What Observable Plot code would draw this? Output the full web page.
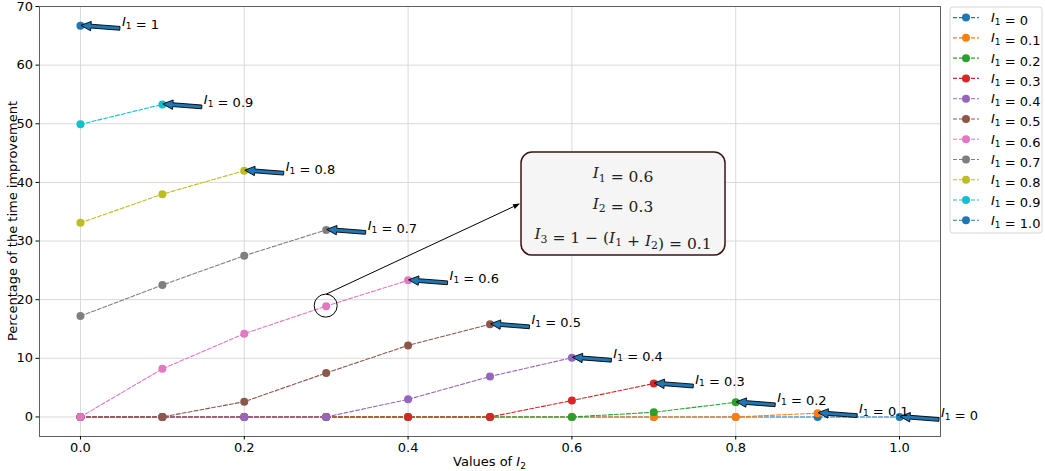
<!DOCTYPE html>
<html><head><meta charset="utf-8">
<script src="https://cdn.jsdelivr.net/npm/d3@7"></script>
<script src="https://cdn.jsdelivr.net/npm/@observablehq/plot@0.6"></script>
<style>
  html,body{margin:0;padding:0;background:#fff}
  #chart{width:1045px;height:471px}
</style>
</head><body><div id="chart"></div>
<script>
// ---------- data ----------
const i2Values = [0, 0.1, 0.2, 0.3, 0.4, 0.5, 0.6, 0.7, 0.8, 0.9, 1.0];
const i1Values = [0, 0.1, 0.2, 0.3, 0.4, 0.5, 0.6, 0.7, 0.8, 0.9, 1.0];
// improvement[k] = values for I1 = i1Values[k], at I2 = 0, 0.1, ... , 1 - I1
const improvement = [
  [0, 0, 0, 0, 0, 0, 0, 0, 0, 0, 0],
  [0, 0, 0, 0, 0, 0, 0, 0, 0, 0.65],
  [0, 0, 0, 0, 0, 0, 0, 0.8, 2.5],
  [0, 0, 0, 0, 0, 0, 2.8, 5.7],
  [0, 0, 0, 0, 3.0, 6.9, 10.1],
  [0, 0, 2.6, 7.5, 12.2, 15.8],
  [0, 8.2, 14.2, 18.9, 23.3],
  [17.2, 22.5, 27.5, 31.9],
  [33.1, 38.0, 42.0],
  [49.9, 53.3],
  [66.7]
];
const legendLabels = ["0", "0.1", "0.2", "0.3", "0.4", "0.5", "0.6", "0.7", "0.8", "0.9", "1.0"];
const annotationLabels = ["0", "0.1", "0.2", "0.3", "0.4", "0.5", "0.6", "0.7", "0.8", "0.9", "1"];
const seriesColors = ["#1f77b4", "#ff7f0e", "#2ca02c", "#d62728", "#9467bd", "#8c564b",
                      "#e377c2", "#7f7f7f", "#bcbd22", "#17becf", "#1f77b4"];
const xTicks = [0, 0.2, 0.4, 0.6, 0.8, 1.0];
const yTicks = [0, 10, 20, 30, 40, 50, 60, 70];
const xLabelText = "Values of ";
const yLabelText = "Percentage of the time improvement";
const highlight = {series: 6, index: 3};          // I1 = 0.6, I2 = 0.3
const boxCenter = {x: 0.663, y: 36.3};             // where the info box sits (data units)
const boxLines = [
  [["I", "1"], " = 0.6"],
  [["I", "2"], " = 0.3"],
  [["I", "3"], " = 1 \u2212 (", ["I", "1"], " + ", ["I", "2"], ") = 0.1"]
];

// ---------- rows ----------
const rows = [];
improvement.forEach((vals, s) => vals.forEach((v, j) => rows.push({series: s, i1: i1Values[s], i2: i2Values[j], value: v})));

const FONT = "DejaVu Sans, Noto Sans, sans-serif";
const DASH = "4,2";

function mathText(sel, parts, fs, family) {
  // parts: strings or [italicLetter, subscript]
  parts.forEach(p => {
    if (Array.isArray(p)) {
      sel.append("tspan").attr("font-style", "italic").attr("font-family", family).text(p[0]);
      sel.append("tspan").attr("font-size", fs * 0.7).attr("dy", fs * 0.22).attr("font-family", family).text(p[1]);
      sel.append("tspan").attr("dy", -fs * 0.22).text("");
    } else {
      sel.append("tspan").attr("font-family", family).text(p);
    }
  });
}

function arrowPath(x0, y0, x1, y1, sw, hw, hl) {
  const dx = x1 - x0, dy = y1 - y0, L = Math.hypot(dx, dy);
  const ux = dx / L, uy = dy / L, nx = -uy, ny = ux;
  const bx = x1 - ux * hl, by = y1 - uy * hl;
  const p = [
    [x0 + nx * sw, y0 + ny * sw], [bx + nx * sw, by + ny * sw], [bx + nx * hw, by + ny * hw],
    [x1, y1],
    [bx - nx * hw, by - ny * hw], [bx - nx * sw, by - ny * sw], [x0 - nx * sw, y0 - ny * sw]
  ];
  return "M" + p.map(q => q.join(",")).join("L") + "Z";
}

function overlay(...args) {
  const scales = args.find(a => a && typeof a.x === "function" && typeof a.y === "function");
  const dims = args.find(a => a && typeof a === "object" && "marginLeft" in a && "width" in a);
  const sx = scales.x, sy = scales.y;
  const g = d3.create("svg:g").attr("text-anchor", "start");
  const left = dims.marginLeft, right = dims.width - dims.marginRight;
  const top = dims.marginTop, bottom = dims.height - dims.marginBottom;

  // fancy arrows + labels at the last point of each series
  improvement.forEach((vals, s) => {
    const j = vals.length - 1;
    const px = sx(i2Values[j]), py = sy(vals[j]);
    const tx = sx(i2Values[j] + 0.05);
    g.append("path").attr("d", arrowPath(tx - 1, py + 3, px + 1, py, 1.9, 4.7, 10))
      .attr("fill", "#1f77b4").attr("stroke", "#000").attr("stroke-width", 0.9).attr("stroke-linejoin", "miter");
    const t = g.append("text").attr("x", tx + 1).attr("y", py + 0.5).attr("font-size", 13)
      .attr("text-anchor", "start").attr("font-family", FONT).attr("fill", "#000");
    mathText(t, [["I", "1"], " = " + annotationLabels[s]], 13, FONT);
  });

  // highlight circle + arrow to info box
  const hv = improvement[highlight.series][highlight.index];
  const cx = sx(i2Values[highlight.index]), cy = sy(hv);
  g.append("circle").attr("cx", cx).attr("cy", cy).attr("r", 11.5)
    .attr("fill", "none").attr("stroke", "#000").attr("stroke-width", 1);
  const bw = 204, bh = 103;
  const bcx = sx(boxCenter.x), bcy = sy(boxCenter.y);
  const ax0 = cx + 0.5, ay0 = cy - 11.5, ax1 = bcx - bw / 2 - 1, ay1 = bcy;
  const dx = ax1 - ax0, dy = ay1 - ay0, L = Math.hypot(dx, dy), ux = dx / L, uy = dy / L;
  const hl = 7, hw = 2.6;
  g.append("line").attr("x1", ax0).attr("y1", ay0).attr("x2", ax1 - ux * hl).attr("y2", ay1 - uy * hl)
    .attr("stroke", "#000").attr("stroke-width", 1);
  g.append("path").attr("d", `M${ax1},${ay1}L${ax1 - ux * hl - uy * hw},${ay1 - uy * hl + ux * hw}L${ax1 - ux * hl + uy * hw},${ay1 - uy * hl - ux * hw}Z`)
    .attr("fill", "#000");
  g.append("rect").attr("x", bcx - bw / 2).attr("y", bcy - bh / 2).attr("width", bw).attr("height", bh)
    .attr("rx", 11).attr("fill", "#f5f5f5").attr("stroke", "#3a1416").attr("stroke-width", 1.5);
  const SERIF = "DejaVu Serif, Liberation Serif, serif";
  boxLines.forEach((parts, i) => {
    const t = g.append("text").attr("x", bcx).attr("y", bcy + (i - 1) * 30.5 + 5)
      .attr("text-anchor", "middle").attr("font-size", 15.5).attr("font-family", SERIF).attr("fill", "#222");
    mathText(t, parts, 15.5, SERIF);
  });

  // axis labels
  g.append("text").attr("transform", `translate(12,${(top + bottom) / 2}) rotate(-90)`)
    .attr("text-anchor", "middle").attr("dy", "0.35em").attr("font-size", 13).attr("font-family", FONT).attr("fill", "#000")
    .text(yLabelText);
  const xl = g.append("text").attr("x", (left + right) / 2).attr("y", dims.height - 5)
    .attr("text-anchor", "middle").attr("font-size", 13).attr("font-family", FONT).attr("fill", "#000");
  mathText(xl, [xLabelText, ["I", "2"]], 13, FONT);

  // legend
  const lx = right + 10, ly = top + 1, lw = 92, lh = 226;
  g.append("rect").attr("x", lx).attr("y", ly).attr("width", lw).attr("height", lh).attr("rx", 3)
    .attr("fill", "#fff").attr("fill-opacity", 0.85).attr("stroke", "#d6d6d6").attr("stroke-width", 1);
  legendLabels.forEach((lab, s) => {
    const yy = ly + 10.6 + s * 20.27;
    g.append("line").attr("x1", lx + 3).attr("x2", lx + 29).attr("y1", yy).attr("y2", yy)
      .attr("stroke", seriesColors[s]).attr("stroke-width", 1.1).attr("stroke-dasharray", DASH);
    g.append("circle").attr("cx", lx + 16).attr("cy", yy).attr("r", 4).attr("fill", seriesColors[s]);
    const t = g.append("text").attr("x", lx + 41).attr("y", yy + 4.5).attr("font-size", 13)
      .attr("text-anchor", "start").attr("font-family", FONT).attr("fill", "#000");
    mathText(t, [["I", "1"], " = " + lab], 13, FONT);
  });
  return g.node();
}

const seriesMarks = [];
improvement.forEach((vals, s) => {
  const d = rows.filter(r => r.series === s);
  seriesMarks.push(Plot.line(d, {x: "i2", y: "value", stroke: seriesColors[s], strokeWidth: 1.1, strokeDasharray: DASH}));
  seriesMarks.push(Plot.dot(d, {x: "i2", y: "value", fill: seriesColors[s], r: 4}));
});

const chart = Plot.plot({
  width: 1045,
  height: 471,
  marginLeft: 39,
  marginRight: 105,
  marginTop: 6,
  marginBottom: 35,
  style: {fontFamily: FONT, fontSize: "13px", color: "#000", background: "#fff"},
  x: {domain: [-0.05, 1.05]},
  y: {domain: [-10 / 3, 70]},
  marks: [
    Plot.gridX(xTicks, {stroke: "#d9d9d9", strokeOpacity: 1, strokeWidth: 1}),
    Plot.gridY(yTicks, {stroke: "#d9d9d9", strokeOpacity: 1, strokeWidth: 1}),
    ...seriesMarks,
    Plot.frame({stroke: "#606060", strokeWidth: 1}),
    Plot.axisX(xTicks, {tickFormat: d3.format(".1f"), tickSize: 3.5, tickPadding: 3, label: null, fontSize: 13}),
    Plot.axisY(yTicks, {tickSize: 3.5, tickPadding: 3, label: null, fontSize: 13}),
    overlay
  ]
});
document.getElementById("chart").appendChild(chart);
</script>
</body></html>
